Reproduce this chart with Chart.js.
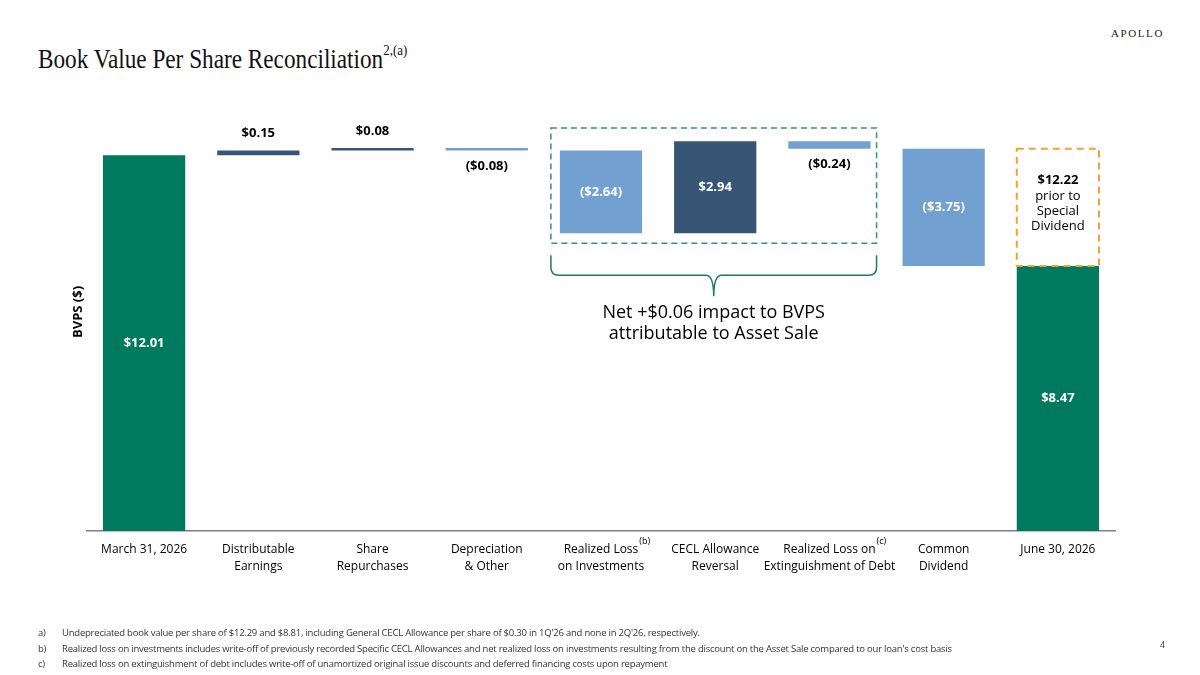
<!DOCTYPE html>
<html>
<head>
<meta charset="utf-8">
<script src="https://cdn.jsdelivr.net/npm/chart.js@4.4.1/dist/chart.umd.min.js"></script>
<style>
  body { margin: 0; background: #fff; }
  #wrap { position: relative; width: 1200px; height: 675px; overflow: hidden; }
  #chart { position: absolute; left: 0; top: 0; }
  .title { position: absolute; left: 38px; top: 44px; font-family: "Liberation Serif", serif; font-size: 27px; color: #111; transform: scaleX(0.86); transform-origin: left top; white-space: nowrap; }
  .title sup { font-size: 15px; position: relative; top: -3px; }
  .logo { position: absolute; right: 36px; top: 27px; font-family: "Liberation Serif", serif; font-size: 11px; letter-spacing: 1.6px; color: #222; }
  .notes { position: absolute; left: 38px; top: 625px; font-family: "Open Sans", sans-serif; font-size: 9.5px; color: #333; letter-spacing: -0.22px; line-height: 15.5px; }
  .notes span { display: inline-block; width: 24px; }
  .page { position: absolute; left: 1160px; top: 638px; font-family: "Open Sans", sans-serif; font-size: 9px; color: #444; }
</style>
</head>
<body>
<div id="wrap">
  <div class="title">Book Value Per Share Reconciliation<sup>2,(a)</sup></div>
  <div class="logo">APOLLO</div>
  <canvas id="chart" width="1200" height="675"></canvas>
  <div class="notes">
    <div><span>a)</span>Undepreciated book value per share of $12.29 and $8.81, including General CECL Allowance per share of $0.30 in 1Q'26 and none in 2Q'26, respectively.</div>
    <div><span>b)</span>Realized loss on investments includes write-off of previously recorded Specific CECL Allowances and net realized loss on investments resulting from the discount on the Asset Sale compared to our loan's cost basis</div>
    <div><span>c)</span>Realized loss on extinguishment of debt includes write-off of unamortized original issue discounts and deferred financing costs upon repayment</div>
  </div>
  <div class="page">4</div>
</div>
<script>
// Waterfall values ($ per share)
const categories = [
  ['March 31, 2026'],
  ['Distributable', 'Earnings'],
  ['Share', 'Repurchases'],
  ['Depreciation', '& Other'],
  ['Realized Loss', 'on Investments'],
  ['CECL Allowance', 'Reversal'],
  ['Realized Loss on', 'Extinguishment of Debt'],
  ['Common', 'Dividend'],
  ['June 30, 2026']
];
const openingBvps = 12.01;
const changes = [0.15, 0.08, -0.08, -2.64, 2.94, -0.24, -3.75];
const closingBvps = 8.47;
const preDividendBvps = 12.22;
const footnoteMarks = { 4: '(b)', 6: '(c)' };

const GREEN = '#007A5E';
const DARK_BLUE = '#375676';
const LIGHT_BLUE = '#72A1D1';

// build floating bars [start, end]
const ranges = [[0, openingBvps]];
const colors = [GREEN];
let running = openingBvps;
changes.forEach(c => {
  const next = Math.round((running + c) * 100) / 100;
  ranges.push([running, next]);
  colors.push(c >= 0 ? DARK_BLUE : LIGHT_BLUE);
  running = next;
});
ranges.push([0, closingBvps]);
colors.push(GREEN);
const amounts = [openingBvps, ...changes, closingBvps];

const fmt = v => v < 0 ? '($' + Math.abs(v).toFixed(2) + ')' : '$' + v.toFixed(2);

// decorations (drawn against the scales)
const saleGroup = { from: 4, to: 6, top: 12.88, bottom: 9.2, braceTop: 8.81, braceMid: 8.17, braceTip: 7.5 };
const dividendBox = { index: 8 };

const labelFont = 'bold 13px "Open Sans", sans-serif';
const tickFont = '12px "Open Sans", sans-serif';
const tickPadding = 2;

const waterfallLabels = {
  id: 'waterfallLabels',
  afterDatasetsDraw(chart) {
    const { ctx, scales: { x, y } } = chart;
    const meta = chart.getDatasetMeta(0);
    ctx.save();
    ctx.font = labelFont;
    ctx.textAlign = 'center';
    ctx.textBaseline = 'middle';
    meta.data.forEach((bar, i) => {
      const top = Math.min(bar.y, bar.base);
      const bottom = Math.max(bar.y, bar.base);
      const txt = fmt(amounts[i]);
      if (bottom - top > 30) {
        ctx.fillStyle = '#fff';
        ctx.fillText(txt, bar.x, (top + bottom) / 2);
      } else if (amounts[i] >= 0) {
        ctx.fillStyle = '#000';
        ctx.fillText(txt, bar.x, top - 17);
      } else {
        ctx.fillStyle = '#000';
        ctx.fillText(txt, bar.x, bottom + 16);
      }
    });

    // green dashed box around the Asset Sale items
    const first = meta.data[saleGroup.from];
    const last = meta.data[saleGroup.to];
    const gx1 = first.x - first.width / 2 - 9;
    const gx2 = last.x + last.width / 2 + 6;
    const gy1 = y.getPixelForValue(saleGroup.top);
    const gy2 = y.getPixelForValue(saleGroup.bottom);
    ctx.strokeStyle = '#3A8F7B';
    ctx.lineWidth = 1.5;
    ctx.setLineDash([6, 4]);
    ctx.strokeRect(gx1, gy1, gx2 - gx1, gy2 - gy1);

    // brace
    ctx.setLineDash([]);
    ctx.strokeStyle = '#1E7A66';
    ctx.lineWidth = 1.5;
    const by1 = y.getPixelForValue(saleGroup.braceTop);
    const by2 = y.getPixelForValue(saleGroup.braceMid);
    const by3 = y.getPixelForValue(saleGroup.braceTip);
    const cx = (gx1 + gx2) / 2;
    const r = 8;
    ctx.beginPath();
    ctx.moveTo(gx1, by1);
    ctx.lineTo(gx1, by2 - r);
    ctx.quadraticCurveTo(gx1, by2, gx1 + r, by2);
    ctx.lineTo(cx - r, by2);
    ctx.quadraticCurveTo(cx, by2, cx, by3);
    ctx.quadraticCurveTo(cx, by2, cx + r, by2);
    ctx.lineTo(gx2 - r, by2);
    ctx.quadraticCurveTo(gx2, by2, gx2, by2 - r);
    ctx.lineTo(gx2, by1);
    ctx.stroke();

    ctx.fillStyle = '#000';
    ctx.font = '18px "Open Sans", sans-serif';
    ctx.fillText('Net +$0.06 impact to BVPS', cx, by3 + 17);
    ctx.fillText('attributable to Asset Sale', cx, by3 + 38);

    // orange dashed box: value prior to special dividend
    const end = meta.data[dividendBox.index];
    const ox1 = end.x - end.width / 2;
    const ox2 = end.x + end.width / 2;
    const oy1 = y.getPixelForValue(preDividendBvps);
    const oy2 = y.getPixelForValue(closingBvps);
    ctx.strokeStyle = '#EDA33A';
    ctx.lineWidth = 2;
    ctx.setLineDash([7, 5]);
    ctx.strokeRect(ox1, oy1, ox2 - ox1, oy2 - oy1);
    ctx.setLineDash([]);
    ctx.font = labelFont;
    ctx.fillText(fmt(preDividendBvps), end.x, oy1 + 32);
    ctx.font = '13px "Open Sans", sans-serif';
    ctx.fillText('prior to', end.x, oy1 + 48);
    ctx.fillText('Special', end.x, oy1 + 63);
    ctx.fillText('Dividend', end.x, oy1 + 78);

    // footnote marks on tick labels
    Object.keys(footnoteMarks).forEach(k => {
      const i = Number(k);
      ctx.font = tickFont;
      const w = ctx.measureText(categories[i][0]).width;
      ctx.font = '9px "Open Sans", sans-serif';
      ctx.textAlign = 'left';
      ctx.fillText(footnoteMarks[k], x.getPixelForTick(i) + w / 2 + 1, x.top + tickPadding + 9);
    });
    ctx.restore();
  }
};

new Chart(document.getElementById('chart'), {
  type: 'bar',
  data: {
    labels: categories,
    datasets: [{
      data: ranges,
      backgroundColor: colors,
      borderWidth: 0,
      borderSkipped: false,
      categoryPercentage: 1,
      barPercentage: 0.72
    }]
  },
  options: {
    responsive: false,
    animation: false,
    layout: { padding: { left: 66, right: 85, top: 93, bottom: 98 } },
    plugins: { legend: { display: false }, tooltip: { enabled: false } },
    scales: {
      x: {
        grid: { display: false },
        border: { color: '#7F7F7F', width: 1.5 },
        ticks: {
          color: '#000',
          font: { family: '"Open Sans", sans-serif', size: 12, lineHeight: 1.42 },
          padding: tickPadding,
          maxRotation: 0,
          autoSkip: false
        }
      },
      y: {
        min: 0,
        max: 14,
        grid: { display: false },
        border: { display: false },
        ticks: { display: false },
        afterFit: axis => { axis.width = 21; },
        title: {
          display: true,
          text: 'BVPS ($)',
          color: '#000',
          padding: { top: 4, bottom: 1 },
          font: { family: '"Open Sans", sans-serif', size: 13, weight: 'bold' }
        }
      }
    }
  },
  plugins: [waterfallLabels]
});
</script>
</body>
</html>
